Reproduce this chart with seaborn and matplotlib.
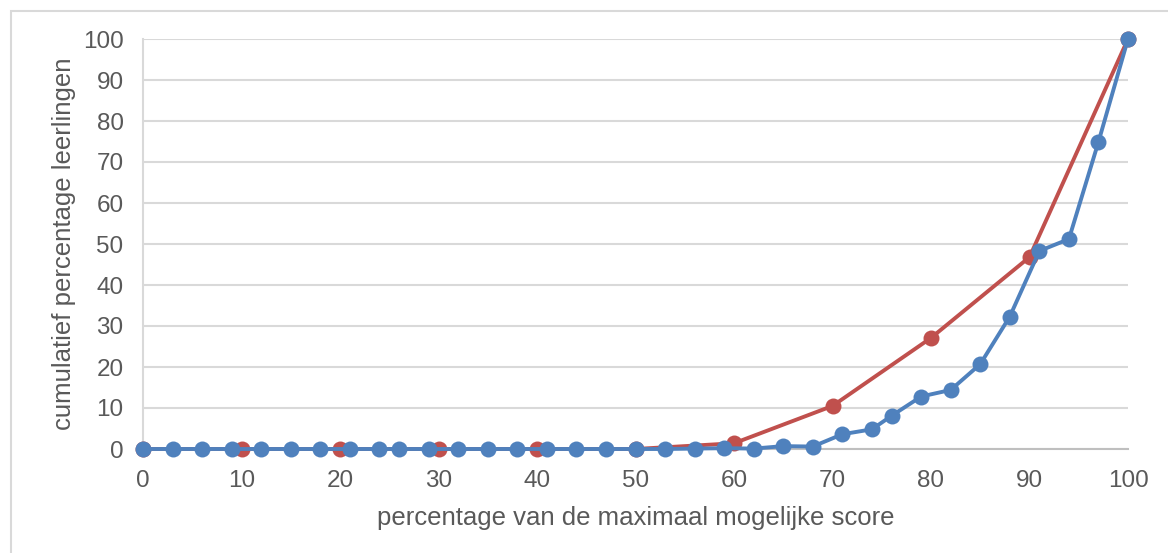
import matplotlib
matplotlib.use("Agg")
import matplotlib.pyplot as plt
from matplotlib.patches import Rectangle
import numpy as np
import pandas as pd
import seaborn as sns

# Data
red_x = [0, 10, 20, 30, 40, 50, 60, 70, 80, 90, 100]
red_y = [0, 0, 0, 0, 0, 0, 1.4, 10.5, 27.1, 46.8, 100]

blue_x = [0, 3, 6, 9, 12, 15, 18, 21, 24, 26, 29, 32, 35, 38, 41, 44, 47, 50,
          53, 56, 59, 62, 65, 68, 71, 74, 76, 79, 82, 85, 88, 91, 94, 97, 100]
blue_y = [0, 0, 0, 0, 0, 0, 0, 0, 0, 0, 0, 0, 0, 0, 0, 0, 0, 0,
          0, 0.1, 0.2, 0.1, 0.7, 0.6, 3.6, 4.8, 8.1, 12.8, 14.4, 20.7, 32.3,
          48.3, 51.2, 74.9, 100]

RED = '#C0504D'
BLUE = '#4F81BD'
GREY_TXT = '#595959'

sns.set_theme(style='white')
plt.rcParams['font.family'] = ['Liberation Sans', 'DejaVu Sans']

fig = plt.figure(figsize=(11.68, 5.53), dpi=100)
ax = fig.add_axes([143 / 1168, 1 - 449 / 553, (1128 - 143) / 1168, (449 - 39) / 553])

red_df = pd.DataFrame({'x': red_x, 'y': red_y})
blue_df = pd.DataFrame({'x': blue_x, 'y': blue_y})

sns.lineplot(data=red_df, x='x', y='y', color=RED, linewidth=2.8, marker='o',
             markersize=11.5, markeredgewidth=0, ax=ax, clip_on=False, zorder=3)
sns.lineplot(data=blue_df, x='x', y='y', color=BLUE, linewidth=2.8, marker='o',
             markersize=11.5, markeredgewidth=0, ax=ax, clip_on=False, zorder=4)

ax.set_xlim(0, 100)
ax.set_ylim(0, 100)
ax.set_xticks(np.arange(0, 101, 10))
ax.set_yticks(np.arange(0, 101, 10))
ax.grid(axis='y', color='#d9d9d9', linewidth=1.5)
ax.set_axisbelow(True)

for s in ['top', 'right']:
    ax.spines[s].set_visible(False)
ax.spines['left'].set_color('#d9d9d9')
ax.spines['left'].set_linewidth(1.5)
ax.spines['bottom'].set_color('#bfbfbf')
ax.spines['bottom'].set_linewidth(1.5)

ax.tick_params(axis='x', labelsize=17.5, colors=GREY_TXT, length=0, pad=15)
ax.tick_params(axis='y', labelsize=17.5, colors=GREY_TXT, length=0, pad=14)
ax.set_xlabel('percentage van de maximaal mogelijke score', fontsize=18.5,
              color=GREY_TXT, labelpad=10)
ax.set_ylabel('cumulatief percentage leerlingen', fontsize=18.5,
              color=GREY_TXT, labelpad=5)

# outer chart border
fig.patches.append(Rectangle((11 / 1168, -0.05), 1.1, 1 - 11 / 553 + 0.05,
                             transform=fig.transFigure, fill=False,
                             edgecolor='#d9d9d9', linewidth=1.5))

fig.savefig('out.png', dpi=100)
